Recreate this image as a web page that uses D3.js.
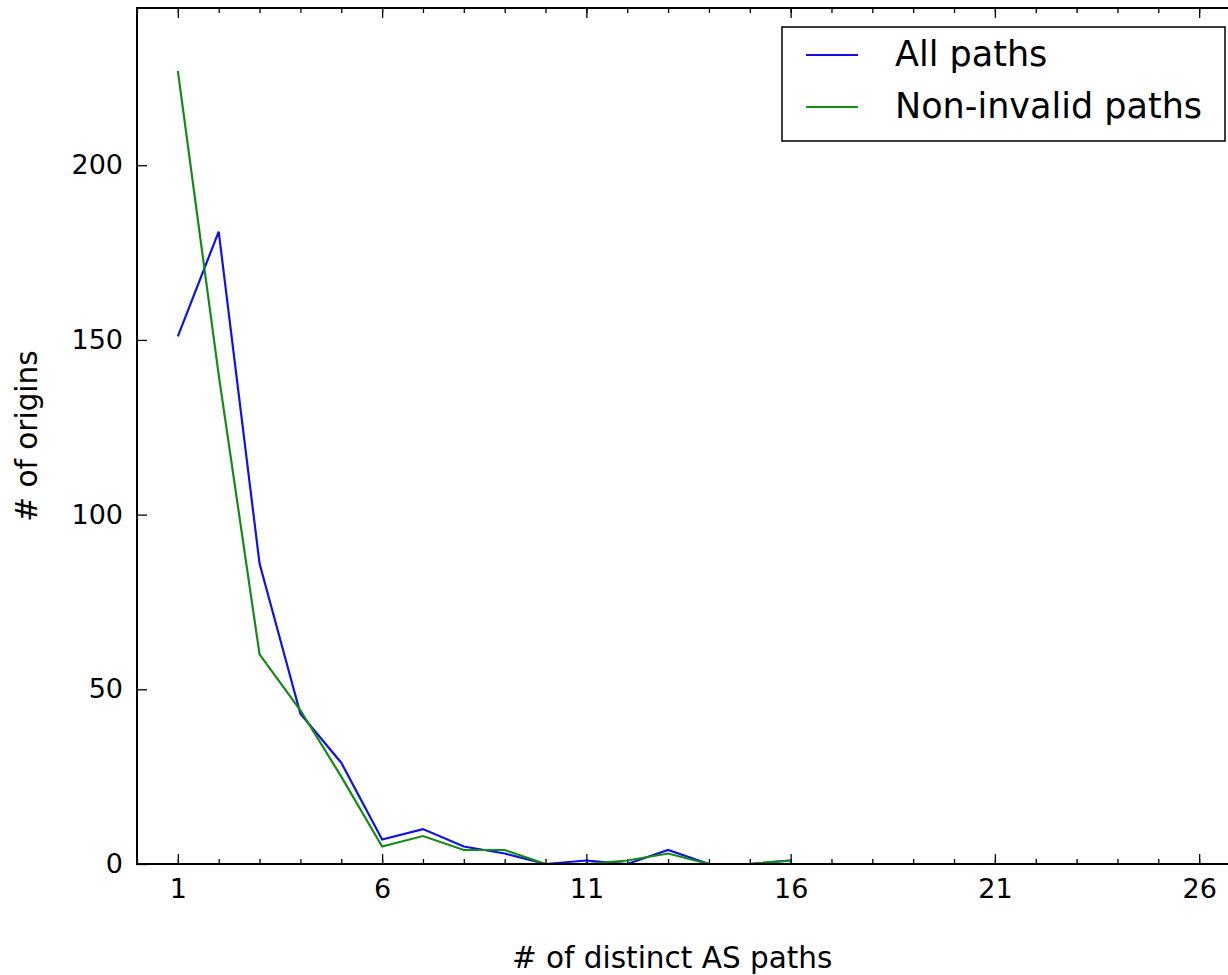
<!DOCTYPE html>
<html>
<head>
  <meta charset="utf-8">
  <script src="https://cdn.jsdelivr.net/npm/d3@7"></script>
  <style>
    body { margin: 0; background: white; overflow: hidden; }
    svg { display: block; overflow: hidden; }
    text { font-family: "DejaVu Sans", sans-serif; fill: black; }
  </style>
</head>
<body>
<svg width="1228" height="975"></svg>

<script type="text/javascript">

// number of distinct AS paths (x) and the counts of origins for each series
var pathCounts = [1, 2, 3, 4, 5, 6, 7, 8, 9, 10, 11, 12, 13, 14, 15, 16];
var allPaths   = [151, 181, 86, 43, 29, 7, 10, 5, 3, 0, 1, 0, 4, 0, 0, 1];
var nonInvalid = [227, 140, 60, 44, 25, 5, 8, 4, 4, 0, 0, 1, 3, 0, 0, 1];

var seriesNames = ["All paths", "Non-invalid paths"];
var xMajorTicks = [1, 6, 11, 16, 21, 26];
var yTicks = [0, 50, 100, 150, 200];

// plot box (the right side runs past the window, like the reference)
var plotLeft = 137, plotTop = 8, plotRight = 1240, plotBottom = 864;

var svg = d3.select("svg");

var x = d3.scaleLinear().domain([0, 27]).range([plotLeft, plotRight]);
var y = d3.scaleLinear().domain([0, 245]).range([plotBottom, plotTop]);

var xMinor = d3.range(0, 28);

// bottom axis: labels + inward ticks
var gx = svg.append("g")
    .attr("transform", "translate(0," + plotBottom + ")")
    .call(d3.axisBottom(x).tickValues(xMajorTicks).tickSize(-10).tickSizeOuter(0).tickPadding(15));
gx.selectAll("text").style("font-size", "27px");

svg.append("g")
    .attr("transform", "translate(0," + plotBottom + ")")
    .call(d3.axisBottom(x).tickValues(xMinor).tickSize(-5).tickSizeOuter(0).tickFormat(""));

// top axis: ticks only
svg.append("g")
    .attr("transform", "translate(0," + plotTop + ")")
    .call(d3.axisTop(x).tickValues(xMajorTicks).tickSize(-10).tickSizeOuter(0).tickFormat(""));
svg.append("g")
    .attr("transform", "translate(0," + plotTop + ")")
    .call(d3.axisTop(x).tickValues(xMinor).tickSize(-5).tickSizeOuter(0).tickFormat(""));

// left axis
var gy = svg.append("g")
    .attr("transform", "translate(" + plotLeft + ",0)")
    .call(d3.axisLeft(y).tickValues(yTicks).tickSize(-10).tickSizeOuter(0).tickPadding(14));
gy.selectAll("text").style("font-size", "27px");

// right axis (outside the window)
svg.append("g")
    .attr("transform", "translate(" + plotRight + ",0)")
    .call(d3.axisRight(y).tickValues(yTicks).tickSize(-10).tickSizeOuter(0).tickFormat(""));

svg.selectAll(".domain").remove();
svg.selectAll(".tick line").style("stroke", "black").style("stroke-width", 1.3);

// series lines
var series = [
  { name: seriesNames[0], values: allPaths, color: "#1010e8" },
  { name: seriesNames[1], values: nonInvalid, color: "#148c14" }
];

var line = d3.line()
    .x(function(d) { return x(d[0]); })
    .y(function(d) { return y(d[1]); });

svg.selectAll("path.series")
    .data(series)
  .enter()
  .append("path")
    .attr("class", "series")
    .attr("d", function(d) { return line(d3.zip(pathCounts, d.values)); })
    .style("fill", "none")
    .style("stroke", function(d) { return d.color; })
    .style("stroke-width", 2.2);

// frame: left, top, bottom (right edge is off-screen)
var frame = [
  [plotLeft, plotTop, plotLeft, plotBottom],
  [plotLeft, plotTop, plotRight, plotTop],
  [plotLeft, plotBottom, plotRight, plotBottom]
];
svg.selectAll("line.frame")
    .data(frame)
  .enter()
  .append("line")
    .attr("class", "frame")
    .attr("x1", function(d) { return d[0]; })
    .attr("y1", function(d) { return d[1]; })
    .attr("x2", function(d) { return d[2]; })
    .attr("y2", function(d) { return d[3]; })
    .style("stroke", "black")
    .style("stroke-width", 2)
    .style("stroke-linecap", "square");

// axis titles
svg.append("text")
    .attr("x", x(13.1)).attr("y", 968)
    .attr("text-anchor", "middle")
    .style("font-size", "29.5px")
    .text("# of distinct AS paths");

svg.append("text")
    .attr("transform", "translate(37," + ((plotTop + plotBottom) / 2) + ") rotate(-90)")
    .attr("text-anchor", "middle")
    .style("font-size", "29.5px")
    .text("# of origins");

// legend
var legend = svg.append("g");
legend.append("rect")
    .attr("x", 782).attr("y", 27)
    .attr("width", 443).attr("height", 114)
    .style("fill", "white")
    .style("stroke", "black")
    .style("stroke-width", 1.5);

var items = legend.selectAll("g.item")
    .data(series)
  .enter()
  .append("g")
    .attr("class", "item")
    .attr("transform", function(d, i) { return "translate(0," + (55 + i * 52) + ")"; });

items.append("line")
    .attr("x1", 806).attr("x2", 858)
    .style("stroke", function(d) { return d.color; })
    .style("stroke-width", 2);

items.append("text")
    .attr("x", 895).attr("y", 11)
    .style("font-size", "35px")
    .text(function(d) { return d.name; });

</script>
</body>
</html>
